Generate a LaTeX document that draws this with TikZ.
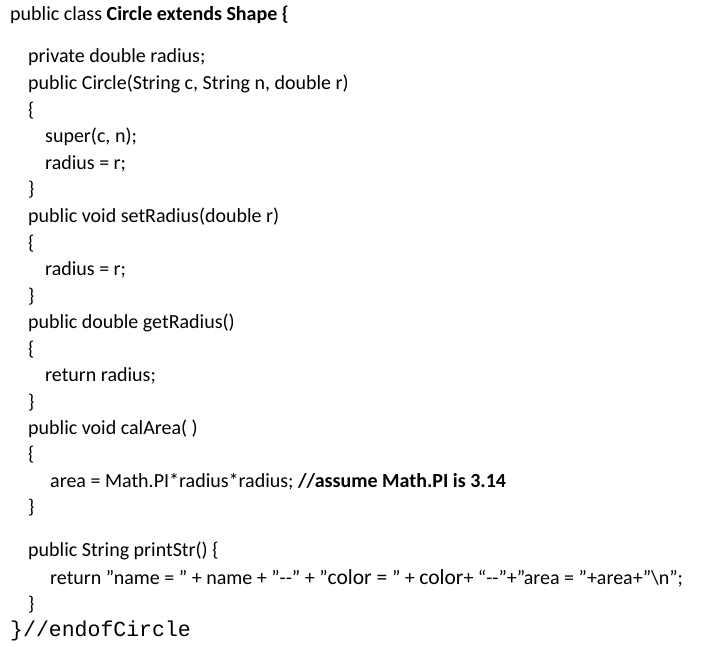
\documentclass[tikz,border=0pt]{standalone}
\usepackage{fontspec}
\setmainfont{Carlito}
\newfontfamily\monof{Liberation Mono}
\newcommand{\dq}{\symbol{34}}
\begin{document}
\begin{tikzpicture}[x=1pt,y=1pt,
  code/.style={anchor=base west,inner sep=0pt,font=\fontsize{20}{22}\selectfont}]
\useasboundingbox (0,0) rectangle (722,-647);
\node[code] (l1) at (10,-21) {public class \textbf{Circle extends Shape \{}};
\node[code] (l2) at (28,-63) {private double radius;};
\node[code] (l3) at (28,-90) {public Circle(String c, String n, double r)};
\node[code] (l4) at (28,-117) {\{};
\node[code] (l5) at (45,-143) {super(c, n);};
\node[code] (l6) at (45,-170) {radius = r;};
\node[code] (l7) at (28,-196) {\}};
\node[code] (l8) at (28,-222) {public void setRadius(double r)};
\node[code] (l9) at (28,-249) {\{};
\node[code] (l10) at (45,-275) {radius = r;};
\node[code] (l11) at (28,-302) {\}};
\node[code] (l12) at (28,-328) {public double getRadius()};
\node[code] (l13) at (28,-355) {\{};
\node[code] (l14) at (45,-381) {return radius;};
\node[code] (l15) at (28,-408) {\}};
\node[code] (l16) at (28,-434) {public void calArea( )};
\node[code] (l17) at (28,-460) {\{};
\node[code] (l18) at (50,-487) {area = Math.PI*radius*radius; \textbf{//assume Math.PI is 3.14}};
\node[code] (l19) at (28,-513) {\}};
\node[code] (l20) at (28,-556) {public String printStr() \{};
\node[code] (l21) at (50,-584) {return \dq name = \dq{} + name + \dq-{}-\dq{} + \dq{\fontsize{21.5}{22}\selectfont color = }\dq{} + {\fontsize{21.5}{22}\selectfont color}+ “-{}-”+”area = ”+area+\dq\textbackslash n\dq;};
\node[code] (l22) at (28,-610) {\}};
\node[code] (l23) at (10,-636) {\fontsize{21.5}{22}\selectfont\monof\}//endofCircle};
\end{tikzpicture}
\end{document}
